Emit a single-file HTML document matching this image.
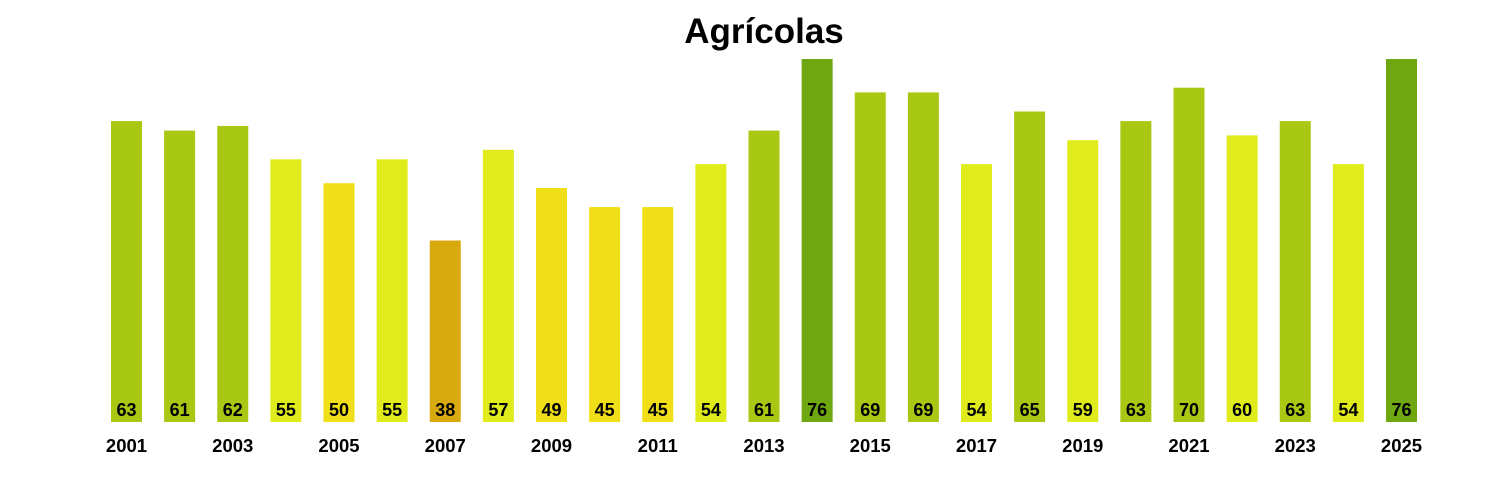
<!DOCTYPE html>
<html><head><meta charset="utf-8"><style>body{margin:0;background:#fff}svg{display:block}</style></head><body>
<svg width="1500" height="500" xmlns="http://www.w3.org/2000/svg" font-family="Liberation Sans, Arial, sans-serif" font-weight="bold">
<text x="764" y="43" text-anchor="middle" font-size="35">Agrícolas</text>
<g>
<rect x="111" y="121.1" width="31" height="300.9" fill="#a8c813"/>
<rect x="164.125" y="130.6" width="31" height="291.4" fill="#a8c813"/>
<rect x="217.25" y="125.9" width="31" height="296.1" fill="#a8c813"/>
<rect x="270.375" y="159.3" width="31" height="262.7" fill="#e0eb1c"/>
<rect x="323.5" y="183.2" width="31" height="238.8" fill="#f0df18"/>
<rect x="376.625" y="159.3" width="31" height="262.7" fill="#e0eb1c"/>
<rect x="429.75" y="240.5" width="31" height="181.5" fill="#d8aa10"/>
<rect x="482.875" y="149.8" width="31" height="272.2" fill="#e0eb1c"/>
<rect x="536" y="188" width="31" height="234" fill="#f0df18"/>
<rect x="589.125" y="207.1" width="31" height="214.9" fill="#f0df18"/>
<rect x="642.25" y="207.1" width="31" height="214.9" fill="#f0df18"/>
<rect x="695.375" y="164.1" width="31" height="257.9" fill="#e0eb1c"/>
<rect x="748.5" y="130.6" width="31" height="291.4" fill="#a8c813"/>
<rect x="801.625" y="59" width="31" height="363" fill="#6ea70f"/>
<rect x="854.75" y="92.4" width="31" height="329.6" fill="#a8c813"/>
<rect x="907.875" y="92.4" width="31" height="329.6" fill="#a8c813"/>
<rect x="961" y="164.1" width="31" height="257.9" fill="#e0eb1c"/>
<rect x="1014.125" y="111.5" width="31" height="310.5" fill="#a8c813"/>
<rect x="1067.25" y="140.2" width="31" height="281.8" fill="#e0eb1c"/>
<rect x="1120.375" y="121.1" width="31" height="300.9" fill="#a8c813"/>
<rect x="1173.5" y="87.7" width="31" height="334.3" fill="#a8c813"/>
<rect x="1226.625" y="135.4" width="31" height="286.6" fill="#e0eb1c"/>
<rect x="1279.75" y="121.1" width="31" height="300.9" fill="#a8c813"/>
<rect x="1332.875" y="164.1" width="31" height="257.9" fill="#e0eb1c"/>
<rect x="1386" y="59" width="31" height="363" fill="#6ea70f"/>
</g>
<g font-size="18" text-anchor="middle">
<text x="126.5" y="416">63</text>
<text x="179.625" y="416">61</text>
<text x="232.75" y="416">62</text>
<text x="285.875" y="416">55</text>
<text x="339" y="416">50</text>
<text x="392.125" y="416">55</text>
<text x="445.25" y="416">38</text>
<text x="498.375" y="416">57</text>
<text x="551.5" y="416">49</text>
<text x="604.625" y="416">45</text>
<text x="657.75" y="416">45</text>
<text x="710.875" y="416">54</text>
<text x="764" y="416">61</text>
<text x="817.125" y="416">76</text>
<text x="870.25" y="416">69</text>
<text x="923.375" y="416">69</text>
<text x="976.5" y="416">54</text>
<text x="1029.625" y="416">65</text>
<text x="1082.75" y="416">59</text>
<text x="1135.875" y="416">63</text>
<text x="1189" y="416">70</text>
<text x="1242.125" y="416">60</text>
<text x="1295.25" y="416">63</text>
<text x="1348.375" y="416">54</text>
<text x="1401.5" y="416">76</text>
</g>
<g font-size="18.5" text-anchor="middle">
<text x="126.5" y="452">2001</text>
<text x="232.75" y="452">2003</text>
<text x="339" y="452">2005</text>
<text x="445.25" y="452">2007</text>
<text x="551.5" y="452">2009</text>
<text x="657.75" y="452">2011</text>
<text x="764" y="452">2013</text>
<text x="870.25" y="452">2015</text>
<text x="976.5" y="452">2017</text>
<text x="1082.75" y="452">2019</text>
<text x="1189" y="452">2021</text>
<text x="1295.25" y="452">2023</text>
<text x="1401.5" y="452">2025</text>
</g>
</svg>
</body></html>
